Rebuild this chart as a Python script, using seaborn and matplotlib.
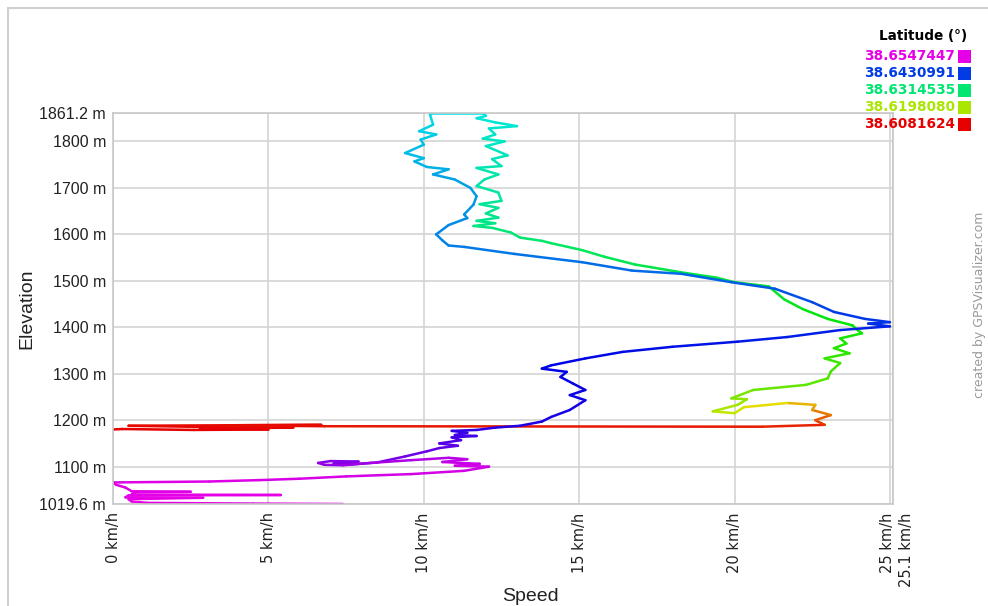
import numpy as np
import pandas as pd
import matplotlib
import matplotlib.pyplot as plt
import matplotlib.transforms as mtransforms
from matplotlib.colors import ListedColormap, Normalize, hsv_to_rgb
from matplotlib.lines import Line2D
from matplotlib.patches import Rectangle
import seaborn as sns

# ---------------------------------
# track data (speed km/h, elevation m, latitude deg), in path order
# ---------------------------------
speed = [
    7.4, 4.5, 1.1, 0.6, 0.5, 2.9, 0.4, 0.5, 5.4, 0.6,
    0.7, 2.5, 0.6, 0.4, 0.1, 0.0, 3.1, 4.7, 6.0, 7.5,
    9.6, 11.3, 12.1, 11.0, 11.8, 10.6, 11.4, 10.8, 9.6, 8.3,
    7.4, 6.8, 6.6, 7.0, 7.9, 7.1, 7.7, 8.5, 9.4, 10.1,
    10.5, 11.1, 10.5, 11.2, 10.9, 11.7, 11.0, 11.4, 10.9, 11.7,
    12.3, 13.1, 13.8, 14.1, 14.7, 15.2, 14.7, 15.2, 14.8, 14.4,
    14.6, 13.8, 14.1, 15.2, 16.4, 18.0, 20.1, 21.7, 23.4, 25.0,
    24.3, 25.0, 24.2, 23.2, 22.5, 21.3, 19.9, 18.3, 16.7, 15.1,
    12.9, 11.3, 10.8, 10.6, 10.4, 10.8, 11.4, 11.3, 11.6, 11.7,
    11.5, 11.0, 10.3, 10.8, 10.1, 9.7, 10.0, 9.4, 10.0, 9.9,
    10.4, 9.85, 10.3, 10.2, 10.3, 11.9,
    12.0, 11.7, 12.3, 13.0, 12.1, 12.3, 11.9, 12.6, 12.0, 12.7,
    12.2, 12.5, 11.7, 12.4, 11.95, 11.7, 12.4, 12.5, 11.8, 12.4,
    12.0, 12.4, 11.7, 12.3, 11.6, 12.2, 12.8, 13.1, 13.8, 14.1,
    15.1, 15.8, 16.8, 18.4, 19.4, 20.0, 21.1, 21.6, 22.2, 23.0,
    23.8, 23.9, 24.1, 23.4, 23.6, 23.2, 23.7, 22.9, 23.4, 23.1,
    23.0, 22.3, 20.6, 19.9, 20.4, 20.1, 19.3, 20.0, 20.3, 21.7,
    22.6, 22.5, 23.1, 22.6, 22.9, 20.9, 6.8, 3.6, 6.7, 0.5,
    2.4, 5.8, 2.8, 5.0, 2.6, 0.3, 0.0,
]

elevation = [
    1019.6, 1020.5, 1022, 1025, 1030, 1033, 1034, 1038, 1039, 1040,
    1045, 1046, 1047, 1055, 1061, 1066, 1068, 1071, 1074, 1079,
    1084, 1091, 1100, 1102, 1106, 1110, 1116, 1119, 1114, 1108,
    1103, 1104, 1108, 1112, 1111, 1107, 1105, 1109, 1122, 1133,
    1140, 1145, 1150, 1157, 1163, 1166, 1168, 1173, 1177, 1179,
    1184, 1188, 1197, 1207, 1222, 1243, 1254, 1265, 1279, 1293,
    1304, 1311, 1318, 1333, 1347, 1358, 1369, 1379, 1394, 1402,
    1408, 1411, 1418, 1433, 1454, 1483, 1497, 1515, 1522, 1540,
    1558, 1573, 1576, 1587, 1600, 1620, 1635, 1643, 1664, 1682,
    1700, 1718, 1729, 1740, 1745, 1757, 1764, 1775, 1793, 1804,
    1815, 1822, 1836, 1858, 1861.2, 1861.2,
    1855, 1850, 1841, 1833, 1828, 1815, 1806, 1800, 1790, 1770,
    1762, 1747, 1743, 1729, 1718, 1704, 1690, 1672, 1665, 1657,
    1645, 1636, 1629, 1624, 1618, 1614, 1604, 1593, 1586, 1581,
    1566, 1552, 1535, 1517, 1507, 1497, 1488, 1460, 1439, 1418,
    1404, 1397, 1387, 1376, 1365, 1355, 1344, 1333, 1323, 1305,
    1290, 1276, 1265, 1247, 1245, 1233, 1219, 1215, 1228, 1237,
    1233, 1222, 1211, 1200, 1190, 1186, 1187, 1189, 1190, 1188,
    1186, 1184, 1182, 1180, 1179, 1181, 1180,
]

latitude = [
    38.65474, 38.65474, 38.65474, 38.65474, 38.65474, 38.65459, 38.65459, 38.65459, 38.65459, 38.65459,
    38.65443, 38.65443, 38.65443, 38.65443, 38.65428, 38.65428, 38.65428, 38.65412, 38.65412, 38.65397,
    38.65397, 38.65381, 38.65366, 38.65350, 38.65335, 38.65319, 38.65288, 38.65272, 38.65226, 38.65179,
    38.65133, 38.65117, 38.65102, 38.65086, 38.65071, 38.65055, 38.65039, 38.65008, 38.64977, 38.64946,
    38.64915, 38.64884, 38.64869, 38.64838, 38.64807, 38.64791, 38.64775, 38.64744, 38.64729, 38.64713,
    38.64682, 38.64651, 38.64636, 38.64620, 38.64605, 38.64589, 38.64574, 38.64574, 38.64558, 38.64543,
    38.64543, 38.64527, 38.64511, 38.64496, 38.64480, 38.64465, 38.64434, 38.64418, 38.64387, 38.64356,
    38.64341, 38.64325, 38.64310, 38.64263, 38.64216, 38.64170, 38.64139, 38.64108, 38.64092, 38.64077,
    38.64046, 38.64030, 38.64015, 38.63999, 38.63984, 38.63968, 38.63952, 38.63937, 38.63921, 38.63906,
    38.63890, 38.63875, 38.63844, 38.63828, 38.63813, 38.63797, 38.63782, 38.63766, 38.63735, 38.63720,
    38.63704, 38.63688, 38.63673, 38.63642, 38.63626, 38.63595,
    38.63564, 38.63549, 38.63533, 38.63518, 38.63502, 38.63487, 38.63471, 38.63456, 38.63440, 38.63425,
    38.63409, 38.63393, 38.63378, 38.63362, 38.63347, 38.63331, 38.63316, 38.63300, 38.63285, 38.63269,
    38.63254, 38.63238, 38.63223, 38.63207, 38.63192, 38.63176, 38.63145, 38.63114, 38.63083, 38.63067,
    38.63036, 38.63005, 38.62974, 38.62928, 38.62897, 38.62866, 38.62835, 38.62788, 38.62741, 38.62695,
    38.62664, 38.62633, 38.62602, 38.62571, 38.62540, 38.62508, 38.62477, 38.62446, 38.62415, 38.62369,
    38.62322, 38.62260, 38.62182, 38.62120, 38.62058, 38.61996, 38.61903, 38.61841, 38.61717, 38.61561,
    38.61437, 38.61313, 38.61189, 38.61064, 38.60971, 38.60909, 38.60878, 38.60863, 38.60863, 38.60847,
    38.60847, 38.60832, 38.60832, 38.60832, 38.60816, 38.60816, 38.60816,
]

lat_min = 38.6081624
lat_max = 38.6547447
legend_values = ['38.6547447', '38.6430991', '38.6314535', '38.6198080', '38.6081624']

x_ticks = [0, 5, 10, 15, 20, 25, 25.1]
x_labels = ['0 km/h', '5 km/h', '10 km/h', '15 km/h', '20 km/h', '25 km/h', '25.1 km/h']
y_ticks = [1019.6, 1100, 1200, 1300, 1400, 1500, 1600, 1700, 1800, 1861.2]
y_labels = ['1019.6 m', '1100 m', '1200 m', '1300 m', '1400 m', '1500 m', '1600 m', '1700 m', '1800 m', '1861.2 m']

# ---------------------------------
# colour scale: red -> yellow -> green -> blue -> magenta
# ---------------------------------
hues = np.linspace(0, 300 / 360, 256)
cmap = ListedColormap(hsv_to_rgb(np.column_stack([hues, np.ones(256), np.full(256, 0.9)])))
norm = Normalize(vmin=lat_min, vmax=lat_max)

# one unit per segment so every piece gets its own colour
rows = []
for i in range(len(speed) - 1):
    rows.append((i, speed[i], elevation[i], latitude[i]))
    rows.append((i, speed[i + 1], elevation[i + 1], latitude[i]))
df = pd.DataFrame(rows, columns=['seg', 'speed', 'elev', 'lat'])

sns.set_theme(style='whitegrid')
plt.rcParams['font.family'] = ['Liberation Sans', 'DejaVu Sans']

W, H = 988, 606
fig = plt.figure(figsize=(W / 100, H / 100), dpi=100)
ax = fig.add_axes([113 / W, 1 - 504 / H, 780 / W, 391 / H])
ax.set_facecolor('white')

sns.lineplot(data=df, x='speed', y='elev', hue='lat', units='seg', estimator=None,
             sort=False, palette=cmap, hue_norm=norm, legend=False,
             linewidth=1.8, solid_capstyle='round', ax=ax)

ax.set_xlim(0, 25.1)
ax.set_ylim(1019.6, 1861.2)
ax.set_xticks(x_ticks)
ax.set_xticklabels(x_labels, rotation=90, family='DejaVu Sans', fontsize=10.5, color='#222222')
ax.set_yticks(y_ticks)
ax.set_yticklabels(y_labels, fontsize=11.5, color='#222222')
ax.tick_params(length=0)
ax.tick_params(axis='x', pad=6)
ax.tick_params(axis='y', pad=5)
ax.grid(True, color='#d4d4d4', linewidth=1.2)
for s in ax.spines.values():
    s.set_color('#c8c8c8')
    s.set_linewidth(1.2)

# push the last tick label off the 25 label
lbls = ax.get_xticklabels()
lbls[-1].set_transform(lbls[-1].get_transform() +
                       mtransforms.ScaledTranslation(13 / 100, 0, fig.dpi_scale_trans))
lbls[-2].set_transform(lbls[-2].get_transform() +
                       mtransforms.ScaledTranslation(-2 / 100, 0, fig.dpi_scale_trans))

ax.set_xlabel('Speed', fontsize=14, color='#222222')
ax.xaxis.set_label_coords(0.535, -0.215)
ax.set_ylabel('Elevation', fontsize=14, color='#222222')
ax.yaxis.set_label_coords(-0.10, 0.5)

# legend in the top-right corner
fig.text(967 / W, 1 - 36 / H, 'Latitude (°)', ha='right', va='center',
         family='DejaVu Sans', fontweight='bold', fontsize=9.8, color='black')
row_y = [56, 73, 90, 107, 124]
for val, yy in zip(legend_values, row_y):
    c = cmap(norm(float(val)))
    fig.text(955 / W, 1 - yy / H, val, ha='right', va='center',
             family='DejaVu Sans', fontweight='bold', fontsize=9.8, color=c)
    fig.add_artist(Rectangle((958 / W, 1 - (yy + 6.5) / H), 13 / W, 13 / H,
                             transform=fig.transFigure, color=c, lw=0))

# watermark and page frame
fig.text(979 / W, 1 - 305 / H, 'created by GPSVisualizer.com', rotation=90,
         ha='center', va='center', family='DejaVu Sans', fontsize=9, color='#9a9a9a')
fig.add_artist(Line2D([8 / W, 1], [1 - 8 / H, 1 - 8 / H], transform=fig.transFigure,
                      color='#d0d0d0', lw=1.5))
fig.add_artist(Line2D([8 / W, 8 / W], [0, 1 - 8 / H], transform=fig.transFigure,
                      color='#d0d0d0', lw=1.5))

fig.savefig('out.png', dpi=100)
